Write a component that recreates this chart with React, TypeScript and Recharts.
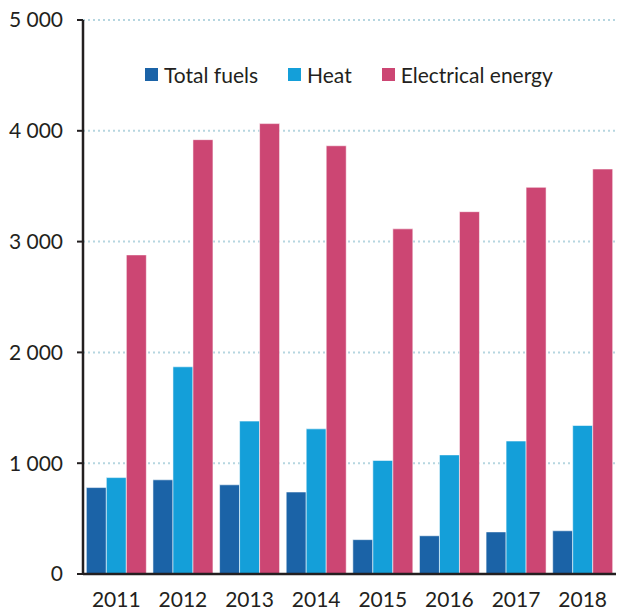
import { Bar, BarChart, CartesianGrid, XAxis, YAxis } from "recharts";

const years = ["2011", "2012", "2013", "2014", "2015", "2016", "2017", "2018"];
const totalFuels = [780, 850, 805, 740, 310, 345, 380, 390];
const heat = [870, 1870, 1380, 1310, 1025, 1075, 1200, 1340];
const electricalEnergy = [2880, 3920, 4065, 3865, 3115, 3270, 3490, 3655];
const yTicks = [0, 1000, 2000, 3000, 4000, 5000];
const edgeTicks = [0, 1, 2, 3, 4, 5, 6, 7, 8];

const series = [
  { key: "fuels", name: "Total fuels", color: "#1b63a7" },
  { key: "heat", name: "Heat", color: "#149fd9" },
  { key: "elec", name: "Electrical energy", color: "#cc4673" },
];

const data = years.map((year, i) => ({
  year,
  fuels: totalFuels[i],
  heat: heat[i],
  elec: electricalEnergy[i],
}));

const FONT = "Lato, 'Open Sans', sans-serif";
const INK = "#231f20";

const fmt = (v: number) => (v >= 1000 ? `${Math.floor(v / 1000)} ${String(v % 1000).padStart(3, "0")}` : String(v));

function LegendRow() {
  return (
    <div
      style={{
        position: "absolute",
        left: 145,
        top: 62,
        display: "flex",
        alignItems: "center",
        fontFamily: FONT,
        fontSize: 21,
        color: INK,
        whiteSpace: "nowrap",
      }}
    >
      {series.map((s, i) => (
        <div key={s.key} style={{ display: "flex", alignItems: "center", marginRight: i === 2 ? 0 : 30 }}>
          <span style={{ width: 13, height: 13, background: s.color, display: "inline-block", marginRight: 6 }} />
          <span>{s.name}</span>
        </div>
      ))}
    </div>
  );
}

export default function App() {
  return (
    <div style={{ position: "absolute", left: 0, top: 0, width: 620, height: 614, background: "#fff" }}>
      <BarChart
        width={620}
        height={614}
        data={data}
        margin={{ top: 20, right: 4, bottom: 0, left: 0 }}
        barCategoryGap="5%"
        barGap={0}
      >
        <CartesianGrid vertical={false} stroke="#b6d6e0" strokeDasharray="2 3" strokeWidth={2} />
        <XAxis
          xAxisId="edge"
          type="number"
          domain={[0, 8]}
          ticks={edgeTicks}
          allowDataOverflow
          height={0}
          tick={false}
          axisLine={false}
          tickSize={6}
          tickLine={{ stroke: INK, strokeWidth: 2 }}
        />
        <XAxis
          dataKey="year"
          height={40}
          tickSize={0}
          tickMargin={18}
          axisLine={{ stroke: INK, strokeWidth: 2.5 }}
          tickLine={false}
          tick={{ fill: INK, fontSize: 21, fontFamily: FONT }}
        />
        <YAxis
          width={83}
          domain={[0, 5000]}
          ticks={yTicks}
          tickFormatter={fmt}
          tickSize={6}
          tickMargin={14}
          axisLine={{ stroke: INK, strokeWidth: 2.5 }}
          tickLine={{ stroke: INK, strokeWidth: 2 }}
          tick={{ fill: INK, fontSize: 21, fontFamily: FONT }}
        />
        {series.map((s) => (
          <Bar
            key={s.key}
            dataKey={s.key}
            name={s.name}
            fill={s.color}
            stroke="rgba(255,255,255,0.55)"
            strokeWidth={1}
            isAnimationActive={false}
          />
        ))}
      </BarChart>
      <LegendRow />
    </div>
  );
}
